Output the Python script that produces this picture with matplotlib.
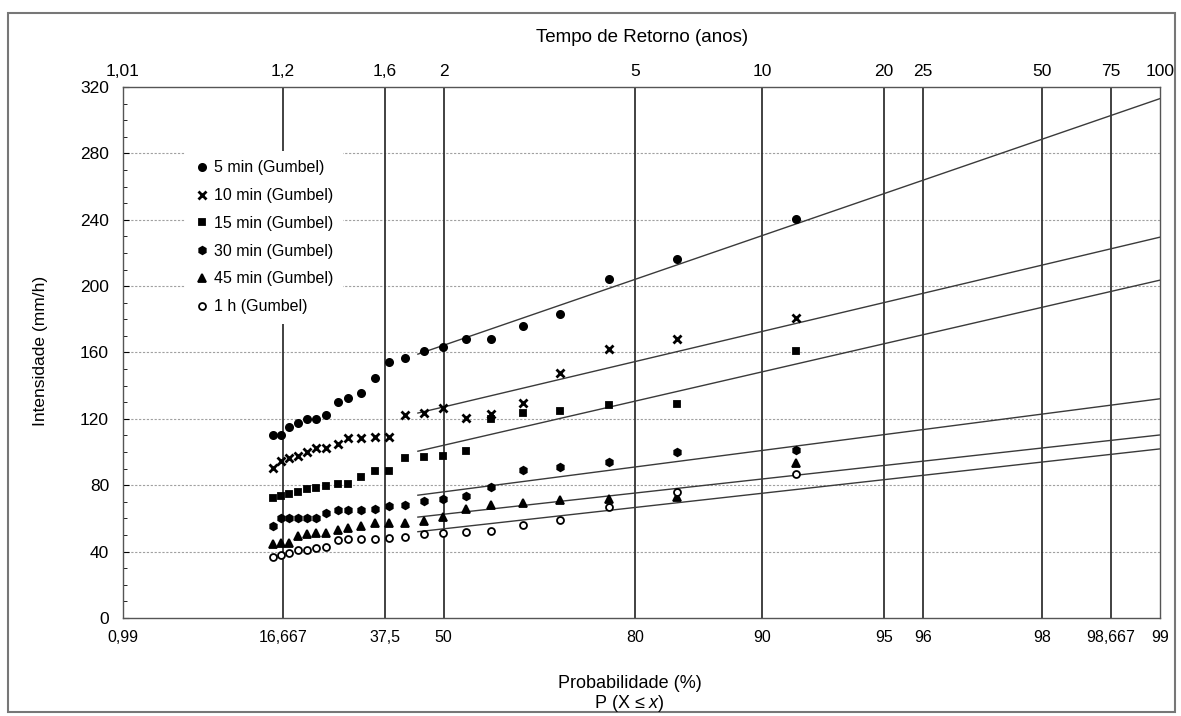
import numpy as np
import matplotlib
matplotlib.use("Agg")
import matplotlib.pyplot as plt
from matplotlib.patches import Rectangle
from matplotlib.ticker import NullLocator, MultipleLocator

plt.rcParams['font.family'] = ['Liberation Sans', 'DejaVu Sans']
plt.rcParams['mathtext.fontset'] = 'custom'
plt.rcParams['mathtext.rm'] = 'Liberation Sans'
plt.rcParams['mathtext.it'] = 'Liberation Sans:italic'

# probabilidade de nao-excedencia (%) de cada ponto
prob_pontos = [14.9, 16.3, 17.7, 19.4, 21.1, 22.9, 25.0, 27.3, 29.6, 32.4, 35.4,
               38.4, 41.9, 45.8, 49.9, 54.4, 59.3, 64.8, 70.6, 77.0, 84.0, 91.7]

# intensidades (mm/h)
i_5min = [110.2, 110.2, 115.2, 117.8, 120.2, 120.2, 122.4, 130.1, 132.5, 135.3, 144.5,
          154.2, 156.4, 161.0, 163.6, 168.2, 168.2, 175.7, 182.9, 204.5, 216.4, 240.2]
i_10min = [90.3, 94.9, 96.7, 97.7, 99.9, 102.5, 102.5, 104.7, 108.3, 108.3, 109.3,
           109.3, 122.6, 123.4, 126.3, 120.8, 123.0, 129.5, 147.8, 162.3, 168.4, 180.9]
i_15min = [72.5, 73.5, 74.6, 76.0, 78.0, 78.2, 79.4, 80.7, 80.7, 85.0, 88.6,
           88.6, 96.2, 97.2, 97.8, 100.6, 120.0, 123.8, 124.8, 128.1, 129.1, 160.7]
i_30min = [55.3, 60.2, 60.2, 60.5, 60.5, 60.5, 63.5, 65.2, 65.2, 65.2, 65.5,
           67.7, 68.3, 70.7, 71.9, 73.5, 78.9, 89.0, 91.0, 94.0, 100.0, 101.0]
i_45min = [44.4, 45.0, 45.0, 49.4, 50.8, 51.4, 51.4, 53.0, 54.0, 55.4, 57.0,
           57.4, 57.4, 58.4, 60.8, 65.9, 68.0, 69.0, 71.0, 72.0, 73.0, 93.2]
i_1h = [36.8, 38.0, 39.4, 40.8, 41.0, 42.0, 42.8, 47.0, 47.4, 47.4, 47.8,
        48.4, 48.8, 50.8, 51.4, 51.8, 52.4, 56.0, 59.0, 67.0, 76.0, 87.0]

nomes = ["5 min (Gumbel)", "10 min (Gumbel)", "15 min (Gumbel)",
         "30 min (Gumbel)", "45 min (Gumbel)", "1 h (Gumbel)"]

# retas ajustadas: intensidade em P = 44,6 % e em P = 99 %
reta_p = [44.6, 99.0]
reta_ini = [159.0, 123.5, 100.5, 74.0, 60.8, 52.0]
reta_fim = [313.0, 229.5, 203.6, 132.1, 110.3, 101.9]

prob_ticks = [0.99, 16.667, 37.5, 50, 80, 90, 95, 96, 98, 98.667, 99]
prob_labels = ["0,99", "16,667", "37,5", "50", "80", "90", "95", "96", "98", "98,667", "99"]
tr_ticks = [1.01, 1.2, 1.6, 2, 5, 10, 20, 25, 50, 75, 100]
tr_labels = ["1,01", "1,2", "1,6", "2", "5", "10", "20", "25", "50", "75", "100"]


def gumbel(p):
    p = np.clip(np.asarray(p, dtype=float) / 100.0, 1e-9, 1 - 1e-9)
    return -np.log(-np.log(p))


def gumbel_inv(y):
    return 100.0 * np.exp(-np.exp(-np.asarray(y, dtype=float)))


fig = plt.figure(figsize=(11.81, 7.16), dpi=100)
ax = fig.add_axes([0.1041, 0.1369, 0.8781, 0.7416])
ax.set_xscale('function', functions=(gumbel, gumbel_inv))
ax.set_xlim(0.99, 99)
ax.set_ylim(0, 320)

# grade
for v in range(40, 320, 40):
    ax.axhline(v, color='#a0a0a0', lw=0.8, ls=(0, (2, 1.5)), zorder=1)
for p in prob_ticks[1:-1]:
    ax.axvline(p, color='#333333', lw=1.3, zorder=1.5)

series = [i_5min, i_10min, i_15min, i_30min, i_45min, i_1h]
marcadores = ['o', 'x', 's', 'h', '^', 'o']
tamanhos = [5.2, 5.2, 4.8, 5.4, 5.4, 5.0]
faces = ['black', 'black', 'black', 'black', 'black', 'white']

handles = []
for k in range(len(series)):
    h, = ax.plot(prob_pontos, series[k], ls='none', marker=marcadores[k],
                 ms=tamanhos[k], mfc=faces[k], mec='black',
                 mew=2.0 if marcadores[k] == 'x' else 1.3, zorder=3, label=nomes[k])
    handles.append(h)
    ax.plot(reta_p, [reta_ini[k], reta_fim[k]], color='#3a3a3a', lw=1.0, zorder=2)

ax.yaxis.set_major_locator(MultipleLocator(40))
ax.yaxis.set_minor_locator(MultipleLocator(10))
ax.tick_params(axis='y', which='major', direction='in', length=4, labelsize=12.5, pad=10)
ax.tick_params(axis='y', which='minor', direction='in', length=3)
ax.set_xticks(prob_ticks)
ax.set_xticklabels(prob_labels)
ax.xaxis.set_minor_locator(NullLocator())
ax.tick_params(axis='x', length=0, labelsize=11.5, pad=9)
for s in ax.spines.values():
    s.set_color('#555555')
    s.set_linewidth(1.0)

ax2 = ax.twiny()
ax2.set_xscale('function', functions=(gumbel, gumbel_inv))
ax2.set_xlim(ax.get_xlim())
ax2.set_xticks([100.0 * (1 - 1.0 / t) for t in tr_ticks])
ax2.set_xticklabels(tr_labels)
ax2.xaxis.set_minor_locator(NullLocator())
ax2.tick_params(axis='x', length=0, labelsize=12.5, pad=6)
for s in ax2.spines.values():
    s.set_visible(False)

leg = ax.legend(handles=handles, loc='upper left', bbox_to_anchor=(0.052, 0.895),
                frameon=True, facecolor='white', edgecolor='none', framealpha=1,
                fancybox=False, handlelength=1.0, handletextpad=0.25,
                labelspacing=0.8, borderpad=0.6, fontsize=11.5)
leg.set_zorder(5)

fig.text(0.5436, 0.947, "Tempo de Retorno (anos)", ha='center', va='center', fontsize=13.5)
fig.text(0.034, 0.51, "Intensidade (mm/h)", ha='center', va='center', rotation=90, fontsize=12.5)
fig.text(0.533, 0.045, "Probabilidade (%)", ha='center', va='center', fontsize=13)
fig.text(0.533, 0.018, "P (X ≤ $x$)", ha='center', va='center', fontsize=13)

fig.patches.append(Rectangle((8 / 1181, 4 / 716), 1167 / 1181, 699 / 716,
                             transform=fig.transFigure, fill=False,
                             edgecolor='#777777', lw=1.5))

fig.savefig("out.png", dpi=100)
